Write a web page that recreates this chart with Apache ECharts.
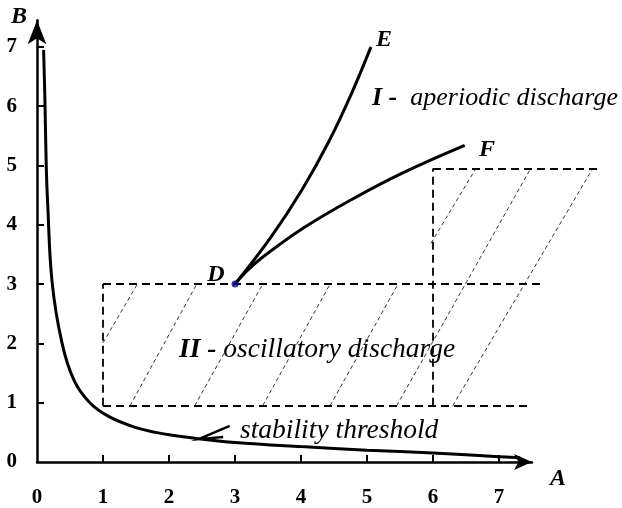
<!DOCTYPE html>
<html><head><meta charset="utf-8">
<script src="https://cdn.jsdelivr.net/npm/echarts@6/dist/echarts.min.js"></script>
<style>html,body{margin:0;padding:0;background:#fff}#c{width:622px;height:508px}</style>
</head><body><div id="c"></div>
<script>
// ---- data ----
const xTicks = [0, 1, 2, 3, 4, 5, 6, 7];
const yTicks = [0, 1, 2, 3, 4, 5, 6, 7];
const thresholdA = [0.10, 0.12, 0.14, 0.16, 0.23, 0.38, 0.56, 0.80, 1.10, 1.50, 1.80, 2.00, 2.47, 3.00, 4.00, 5.00, 6.00, 7.00, 7.32];
const thresholdB = [6.95, 6.10, 5.00, 4.40, 3.02, 2.00, 1.38, 1.00, 0.76, 0.58, 0.50, 0.46, 0.39, 0.33, 0.26, 0.20, 0.15, 0.09, 0.07];
const branchEA = [3.00, 3.55, 4.02, 4.42, 4.76, 5.06];
const branchEB = [3.00, 3.80, 4.60, 5.40, 6.20, 7.00];
const branchFA = [3.00, 3.15, 3.38, 4.03, 4.79, 5.55, 6.48];
const branchFB = [3.00, 3.19, 3.42, 3.94, 4.44, 4.88, 5.34];
const pointD = [3.0, 3.0];
const regionBorders = [
  [[1.00, 0.95], [7.44, 0.95]],
  [[1.00, 3.00], [7.67, 3.00]],
  [[1.00, 0.95], [1.00, 3.00]],
  [[6.00, 0.95], [6.00, 4.95]],
  [[6.00, 4.95], [8.49, 4.95]]
];
const hatchLines = [
  [[1.00, 2.01], [1.52, 3.00]],
  [[1.41, 0.95], [2.42, 3.00]],
  [[2.39, 0.95], [3.42, 3.00]],
  [[3.42, 0.95], [4.44, 3.00]],
  [[4.44, 0.95], [5.47, 3.00]],
  [[5.45, 0.95], [7.48, 4.95]],
  [[6.30, 0.95], [8.42, 4.95]],
  [[5.97, 3.69], [6.65, 4.95]]
];
const pointerArrow = [[2.92, 0.61], [2.45, 0.385], [2.82, 0.42]];

const zip = (a, b) => a.map((v, i) => [v, b[i]]);
const serif = 'Liberation Serif';
const intOnly = v => (Number.isInteger(v) && xTicks.indexOf(v) >= 0) ? String(v) : '';

const chart = echarts.init(document.getElementById('c'));
chart.setOption({
  animation: false,
  backgroundColor: '#fff',
  grid: { left: 37, right: 90, top: 20.2, bottom: 46 },
  xAxis: {
    type: 'value', min: 0, max: 7.5, interval: 1,
    axisLine: { show: true, lineStyle: { color: '#000', width: 2.5 },
      symbol: ['none', 'arrow'], symbolSize: [12, 18] },
    axisTick: { show: true, inside: true, length: 7, lineStyle: { color: '#000', width: 2 },
      customValues: xTicks.slice(1) },
    axisLabel: { formatter: intOnly, showMaxLabel: false, color: '#000', fontFamily: serif, fontWeight: 'bold', fontSize: 21, margin: 25 },
    splitLine: { show: false }
  },
  yAxis: {
    type: 'value', min: 0, max: 7.45, interval: 1,
    axisLine: { show: true, lineStyle: { color: '#000', width: 2.5 },
      symbol: ['none', 'arrow'], symbolSize: [14, 24] },
    axisTick: { show: true, inside: true, length: 7, lineStyle: { color: '#000', width: 2 },
      customValues: yTicks.slice(1) },
    axisLabel: { formatter: intOnly, showMaxLabel: false, color: '#000', fontFamily: serif, fontWeight: 'bold', fontSize: 21, margin: 20 },
    splitLine: { show: false }
  },
  series: [
    { type: 'lines', coordinateSystem: 'cartesian2d', clip: false, silent: true,
      lineStyle: { color: '#000', width: 0.8, type: [4, 3], opacity: 1 },
      data: hatchLines.map(c => ({ coords: c })) },
    { type: 'lines', coordinateSystem: 'cartesian2d', clip: false, silent: true,
      lineStyle: { color: '#000', width: 1.8, type: [8, 5], opacity: 1 },
      data: regionBorders.map(c => ({ coords: c })) },
    { type: 'line', data: zip(thresholdA, thresholdB), smooth: 0.4, showSymbol: false, clip: false,
      lineStyle: { color: '#000', width: 3 } },
    { type: 'line', data: zip(branchEA, branchEB), smooth: 0.4, showSymbol: false, clip: false,
      lineStyle: { color: '#000', width: 3 } },
    { type: 'line', data: zip(branchFA, branchFB), smooth: 0.4, showSymbol: false, clip: false,
      lineStyle: { color: '#000', width: 3 } },
    { type: 'scatter', data: [pointD], symbolSize: 7, itemStyle: { color: '#0a0a8c' }, z: 5 }
  ]
});

const px = p => chart.convertToPixel({ gridIndex: 0 }, p);
const txt = (text, x, y, font) => ({
  type: 'text', x: x, y: y,
  style: { text: text, font: font, fill: '#000', textAlign: 'center', textVerticalAlign: 'middle' }
});
const bi = (s) => 'italic bold ' + s + 'px "' + serif + '"';
const it = (s) => 'italic ' + s + 'px "' + serif + '"';
const mixed = (bold, rest, x, y, size) => ({
  type: 'text', x: x, y: y,
  style: { text: '{b|' + bold + '}{i|' + rest + '}', textVerticalAlign: 'middle',
    rich: { b: { font: bi(size), fill: '#000' }, i: { font: it(size), fill: '#000' } } }
});

chart.setOption({
  graphic: [
    txt('B', 19, 17, bi(24)),
    txt('A', 558, 479, bi(24)),
    txt('D', 216, 275, bi(24)),
    txt('E', 384, 40, bi(24)),
    txt('F', 487, 150, bi(24)),
    mixed('I - ', ' aperiodic discharge', 372, 98, 26),
    mixed('II - ', 'oscillatory discharge', 179, 350, 27.5),
    { type: 'text', x: 240, y: 431, style: { text: 'stability threshold', font: it(27.5), fill: '#000', textVerticalAlign: 'middle' } },
    { type: 'polyline', shape: { points: pointerArrow.map(px) }, style: { stroke: '#000', lineWidth: 2.5, fill: null } }
  ]
});
</script>
</body></html>
